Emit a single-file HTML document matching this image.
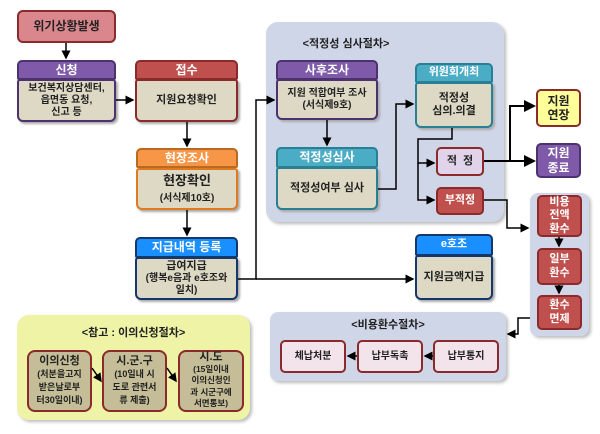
<!DOCTYPE html>
<html><head><meta charset="utf-8"><style>
body{margin:0;width:600px;height:434px;background:#fff;position:relative;overflow:hidden;font-family:"Liberation Sans","Noto Sans CJK KR","NanumGothic",sans-serif;font-weight:bold;color:#222}
.a{position:absolute;box-sizing:border-box;display:flex;align-items:center;justify-content:center;text-align:center;line-height:1.2}
.p{position:absolute;border-radius:12px;box-shadow:2px 2px 3px #bbb}
.h{color:#fff;font-size:12px;border-radius:5px 5px 2px 2px;border:2px solid}
.b{background:#ddd9c4;font-size:10px;border-radius:3px 3px 6px 6px;border:2px solid;box-shadow:2px 2px 2px #aaa}
.t{position:absolute;font-size:11px;text-align:center}
</style></head><body>
<div class="p" style="left:266px;top:22px;width:238px;height:200px;background:#cfd6e8"></div>
<div class="p" style="left:530px;top:193px;width:59px;height:143px;background:#cfd6e8;border-radius:8px"></div>
<div class="p" style="left:270px;top:312px;width:236px;height:69px;background:#cfd6e8;border-radius:8px"></div>
<div class="p" style="left:17px;top:315px;width:233px;height:105px;background:#eef3a6"></div>
<div class="t" style="left:266px;width:160px;top:35px">&lt;적정성 심사절차&gt;</div>
<div class="t" style="left:270px;width:236px;top:316px">&lt;비용환수절차&gt;</div>
<div class="t" style="left:17px;width:233px;top:324px">&lt;참고 : 이의신청절차&gt;</div>

<div class="a" style="left:17px;top:10px;width:99px;height:33px;background:#d9868c;border:2px solid #8b2a2a;border-radius:6px;font-size:12px">위기상황발생</div>

<div class="a h" style="left:17px;top:60px;width:99px;height:20px;background:#7e5aa8;border-color:#4d3270">신청</div>
<div class="a b" style="left:17px;top:79px;width:99px;height:43px;border-color:#4d3270"><div>보건복지상담센터,<br>읍면동 요청,<br>신고 등</div></div>

<div class="a h" style="left:135px;top:60px;width:103px;height:20px;background:#c0504d;border-color:#8b2a2a">접수</div>
<div class="a b" style="left:135px;top:79px;width:103px;height:43px;border-color:#8b2a2a;font-size:11px">지원요청확인</div>

<div class="a h" style="left:136px;top:148px;width:102px;height:20px;background:#f79646;border-color:#b86a20">현장조사</div>
<div class="a b" style="left:136px;top:168px;width:102px;height:42px;border-color:#e07a20;font-size:13px"><div>현장확인<br><span style="font-size:10px">(서식제10호)</span></div></div>

<div class="a h" style="left:135px;top:237px;width:103px;height:21px;background:#1a8fff;border-color:#14386b">지급내역 등록</div>
<div class="a b" style="left:135px;top:257px;width:103px;height:43px;border-color:#14386b"><div><span style="font-size:11px">급여지급</span><br>(행복e음과 e호조와<br>일치)</div></div>

<div class="a h" style="left:276px;top:60px;width:102px;height:20px;background:#7e5aa8;border-color:#4d3270">사후조사</div>
<div class="a b" style="left:276px;top:79px;width:102px;height:41px;border-color:#4d3270"><div>지원 적합여부 조사<br>(서식제9호)</div></div>

<div class="a h" style="left:276px;top:147px;width:102px;height:21px;background:#4bacc6;border-color:#2a7f95">적정성심사</div>
<div class="a b" style="left:276px;top:167px;width:102px;height:43px;border-color:#2a7f95;font-size:11px">적정성여부 심사</div>

<div class="a h" style="left:415px;top:63px;width:78px;height:20px;background:#4bacc6;border-color:#2a7f95;font-size:11px">위원회개최</div>
<div class="a b" style="left:415px;top:82px;width:78px;height:46px;border-color:#2a7f95;font-size:11px"><div>적정성<br>심의.의결</div></div>

<div class="a" style="left:436px;top:147px;width:48px;height:29px;background:#e0d3ea;border:2px solid #8b2a2a;border-radius:5px;font-size:11px">적 &nbsp;정</div>
<div class="a" style="left:436px;top:187px;width:48px;height:28px;background:#c0504d;border:2px solid #8b2a2a;border-radius:5px;font-size:11px;color:#fff">부적정</div>

<div class="a" style="left:536px;top:89px;width:45px;height:38px;background:#ffff99;border:2px solid #8b2a2a;border-radius:5px;font-size:12px"><div>지원<br>연장</div></div>
<div class="a" style="left:536px;top:143px;width:45px;height:35px;background:#7e5aa8;border:2px solid #4d3270;border-radius:5px;font-size:12px;color:#fff"><div>지원<br>종료</div></div>

<div class="a" style="left:537px;top:195px;width:45px;height:42px;background:#c0504d;border:2px solid #8b2a2a;border-radius:5px;font-size:11px;color:#fff"><div>비용<br>전액<br>환수</div></div>
<div class="a" style="left:537px;top:248px;width:45px;height:37px;background:#c0504d;border:2px solid #8b2a2a;border-radius:5px;font-size:11px;color:#fff"><div>일부<br>환수</div></div>
<div class="a" style="left:537px;top:295px;width:45px;height:35px;background:#c0504d;border:2px solid #8b2a2a;border-radius:5px;font-size:11px;color:#fff"><div>환수<br>면제</div></div>

<div class="a h" style="left:415px;top:234px;width:78px;height:22px;background:#1a8fff;border-color:#14386b;font-size:11px">e호조</div>
<div class="a b" style="left:415px;top:255px;width:78px;height:45px;border-color:#14386b;font-size:11px">지원금액지급</div>

<div class="a" style="left:280px;top:340px;width:66px;height:33px;background:#f2e4ea;border:2px solid #8b2a2a;border-radius:5px;font-size:10px">체납처분</div>
<div class="a" style="left:357px;top:340px;width:66px;height:33px;background:#f2e4ea;border:2px solid #8b2a2a;border-radius:5px;font-size:10px">납부독촉</div>
<div class="a" style="left:433px;top:340px;width:66px;height:33px;background:#f2e4ea;border:2px solid #8b2a2a;border-radius:5px;font-size:10px">납부통지</div>

<div class="a" style="left:27px;top:350px;width:65px;height:62px;background:#c4bd97;border:2px solid #8b2a2a;border-radius:8px;font-size:11px"><div>이의신청<br><span style="font-size:9px">(처분을고지<br>받은날로부<br>터30일이내)</span></div></div>
<div class="a" style="left:102px;top:350px;width:65px;height:62px;background:#c4bd97;border:2px solid #8b2a2a;border-radius:8px;font-size:11px"><div>시.군.구<br><span style="font-size:9px">(10일내 시<br>도로 관련서<br>류 제출)</span></div></div>
<div class="a" style="left:178px;top:350px;width:66px;height:62px;background:#c4bd97;border:2px solid #8b2a2a;border-radius:8px;font-size:11px;line-height:1.05"><div>시.도<br><span style="font-size:8.5px">(15일이내<br>이의신청인<br>과 시군구에<br>서면통보)</span></div></div>

<svg width="600" height="434" style="position:absolute;left:0;top:0" fill="none" stroke="#000" stroke-width="1.5">
<defs><marker id="m" markerWidth="6" markerHeight="6" refX="5" refY="3" orient="auto"><path d="M0,0L6,3L0,6z" fill="#000" stroke="none"/></marker></defs>
<path d="M66,43V58" marker-end="url(#m)"/>
<path d="M116,100H133" marker-end="url(#m)"/>
<path d="M187,122V146" marker-end="url(#m)"/>
<path d="M187,210V235" marker-end="url(#m)"/>
<path d="M238,279H256V100H274" marker-end="url(#m)"/>
<path d="M256,279H413" marker-end="url(#m)"/>
<path d="M327,120V145" marker-end="url(#m)"/>
<path d="M378,189H396V104H413" marker-end="url(#m)"/>
<path d="M452,128V139H418V163H434" marker-end="url(#m)"/>
<path d="M418,163V200H434" marker-end="url(#m)"/>
<path d="M484,161H510V106H534" marker-end="url(#m)" stroke-width="2"/>
<path d="M510,161H534" marker-end="url(#m)" stroke-width="2"/>
<path d="M484,200H507V228H528" marker-end="url(#m)"/>
<path d="M559,237V246" marker-end="url(#m)"/>
<path d="M559,285V293" marker-end="url(#m)"/>
<path d="M530,318H518V334H508" marker-end="url(#m)"/>
<path d="M433,356H425" marker-end="url(#m)"/>
<path d="M357,356H348" marker-end="url(#m)"/>
<path d="M92,368L101,381" marker-end="url(#m)"/>
<path d="M167,368L176,381" marker-end="url(#m)"/>
</svg>
</body></html>
